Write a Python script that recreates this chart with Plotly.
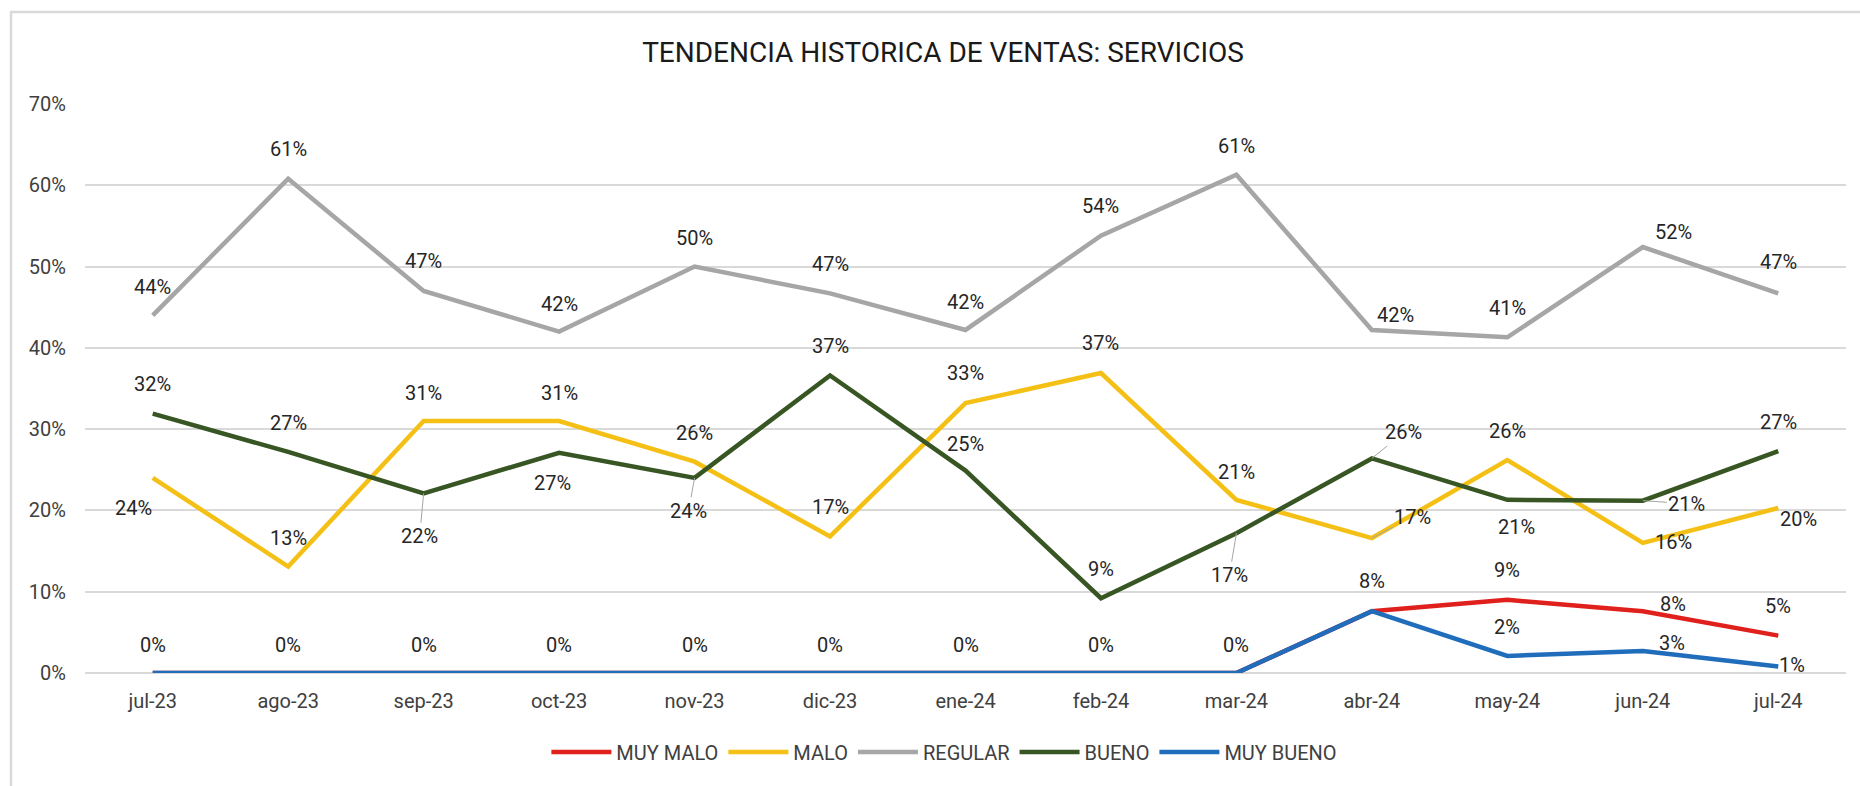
import plotly.graph_objects as go

# ---------------- data ----------------
categories = ['jul-23', 'ago-23', 'sep-23', 'oct-23', 'nov-23', 'dic-23', 'ene-24',
              'feb-24', 'mar-24', 'abr-24', 'may-24', 'jun-24', 'jul-24']
muy_malo = [0, 0, 0, 0, 0, 0, 0, 0, 0, 0.076, 0.090, 0.076, 0.046]
malo = [0.240, 0.131, 0.310, 0.310, 0.260, 0.168, 0.332, 0.369, 0.213, 0.166, 0.262, 0.160, 0.203]
regular = [0.440, 0.608, 0.470, 0.420, 0.500, 0.467, 0.422, 0.538, 0.613, 0.422, 0.413, 0.524, 0.467]
bueno = [0.319, 0.272, 0.221, 0.271, 0.240, 0.366, 0.249, 0.092, 0.172, 0.264, 0.213, 0.212, 0.273]
muy_bueno = [0, 0, 0, 0, 0, 0, 0, 0, 0, 0.076, 0.021, 0.027, 0.008]
y_ticks = [0, 0.1, 0.2, 0.3, 0.4, 0.5, 0.6, 0.7]

series = [
    ('MUY MALO', muy_malo, '#e0201c'),
    ('MALO', malo, '#f4c016'),
    ('REGULAR', regular, '#a6a6a6'),
    ('BUENO', bueno, '#375623'),
    ('MUY BUENO', muy_bueno, '#1f6dbb'),
]

# label placement (pixel offsets from point: dx right, dy up, leader line flag)
A = (0, 29, False)
label_pos = {
    'REGULAR': [(0, 28, False), (0, 30, False), (0, 30, False), (0, 28, False), A, A,
                (0, 28, False), (0, 30, False), A, (24, 15, False), A, (31, 15, False), (0, 31, False)],
    'MALO': [(-19, -30, False), A, (0, 28, False), (0, 28, False), A, A, (0, 30, False),
             (0, 30, False), (0, 28, False), (41, 21, True), A, (31, 1, False), (20, -11, False)],
    'BUENO': [(0, 30, False), A, (-4, -43, True), (-7, -30, False), (-6, -33, True), A,
              (0, 27, False), A, (-7, -42, True), (32, 26, True), (9, -27, False),
              (44, -3, True), A],
    'MUY MALO': [None] * 9 + [(0, 30, False), (0, 30, False), (30, 7, False), (0, 30, False)],
    'MUY BUENO': [(0, 28, False)] * 9 + [None, A, (29, 8, False), (14, 2, False)],
}

FONT = 'Roboto, Arial, sans-serif'

fig = go.Figure()
for name, vals, color in series:
    fig.add_trace(go.Scatter(
        x=categories, y=vals, name=name, mode='lines',
        line=dict(color=color, width=4.5),
        hoverinfo='x+y+name',
    ))

annotations = []
for name, vals, color in series:
    for cat, v, pos in zip(categories, vals, label_pos[name]):
        if pos is None:
            continue
        dx, dy, leader = pos
        txt = f"{round(v * 100)}%"
        if leader:
            annotations.append(dict(
                x=cat, y=v, xref='x', yref='y', text=txt,
                showarrow=True, arrowhead=0, arrowwidth=1, arrowcolor='#a6a6a6',
                ax=dx, ay=-dy, standoff=0,
                font=dict(family=FONT, size=20, color='#262626'),
            ))
        else:
            annotations.append(dict(
                x=cat, y=v, xref='x', yref='y', text=txt, showarrow=False,
                xshift=dx, yshift=dy, xanchor='center', yanchor='middle',
                font=dict(family=FONT, size=20, color='#262626'),
            ))

fig.update_layout(
    width=1860, height=786,
    margin=dict(l=85, r=14, t=104, b=113),
    paper_bgcolor='white', plot_bgcolor='white',
    title=dict(text='TENDENCIA HISTORICA DE VENTAS: SERVICIOS',
               x=0.507, xref='container', xanchor='center',
               y=1 - 52 / 786, yref='container', yanchor='middle',
               font=dict(family=FONT, size=28, color='#1a1a1a')),
    font=dict(family=FONT, size=20, color='#595959'),
    showlegend=True,
    legend=dict(orientation='h', x=0.488, xanchor='center', y=-0.139, yanchor='middle',
                font=dict(family=FONT, size=20, color='#404040'),
                itemwidth=60, bgcolor='rgba(0,0,0,0)', traceorder='normal'),
    annotations=annotations,
    shapes=[dict(type='rect', xref='paper', yref='paper',
                 x0=(11 - 85) / 1761, x1=(1875 - 85) / 1761,
                 y0=(673 - 800) / 569, y1=(673 - 12) / 569,
                 line=dict(color='#d9d9d9', width=2.5), fillcolor='rgba(0,0,0,0)',
                 layer='below')],
    hovermode='closest',
)
fig.update_xaxes(type='category', showgrid=False, showline=False, zeroline=False,
                 ticks='', ticklabelstandoff=14,
                 tickfont=dict(family=FONT, size=20, color='#404040'),
                 range=[-0.5, len(categories) - 0.5])
fig.update_yaxes(range=[0, 0.7], tickvals=y_ticks, tickformat='.0%',
                 showgrid=True, gridcolor='#d9d9d9', gridwidth=1.5,
                 zeroline=True, zerolinecolor='#d9d9d9', zerolinewidth=1.5,
                 showline=False, ticks='', ticklabelstandoff=18,
                 tickfont=dict(family=FONT, size=20, color='#404040'))

fig.write_html('out.html', config={'displayModeBar': False},
               post_script="document.body.style.margin='0';document.body.style.overflow='hidden';")
